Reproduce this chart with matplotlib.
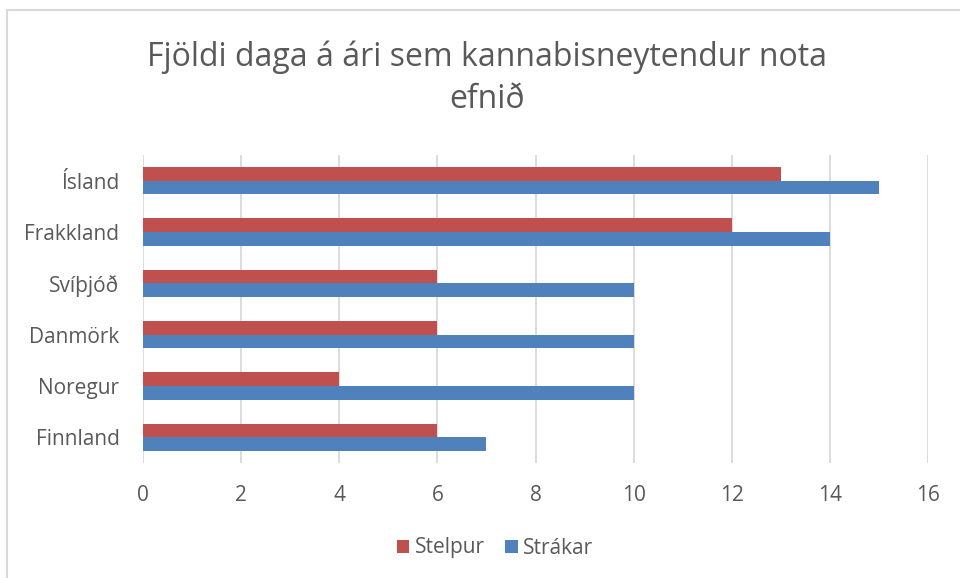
import matplotlib
matplotlib.use("Agg")
import matplotlib.pyplot as plt
from matplotlib.lines import Line2D
import numpy as np

categories = ["Finnland", "Noregur", "Danmörk", "Svíþjóð", "Frakkland", "Ísland"]
stelpur = [6, 4, 6, 6, 12, 13]
strakar = [7, 10, 10, 10, 14, 15]
xticks = [0, 2, 4, 6, 8, 10, 12, 14, 16]

plt.rcParams['font.family'] = ['Open Sans', 'DejaVu Sans']
text_color = "#595959"
red = "#C0504D"
blue = "#4F81BD"

fig = plt.figure(figsize=(9.6, 5.78), dpi=100)
ax = fig.add_axes([143/960, 1 - 463/578, (928-143)/960, (463-155)/578])

y = np.arange(len(categories))
h = 0.265
ax.barh(y + h/2, stelpur, height=h, color=red, label="Stelpur", zorder=3)
ax.barh(y - h/2, strakar, height=h, color=blue, label="Strákar", zorder=3)

ax.set_xlim(0, 16)
ax.set_ylim(-0.5, len(categories) - 0.5)
ax.set_xticks(xticks)
ax.set_xticklabels([str(t) for t in xticks])
ax.set_yticks(y)
ax.set_yticklabels(categories)
ax.tick_params(axis='both', length=0, colors=text_color, labelsize=15)
ax.tick_params(axis='x', pad=16)
ax.tick_params(axis='y', pad=17)
for s in ax.spines.values():
    s.set_visible(False)
ax.grid(axis='x', color='#d9d9d9', linewidth=1.3, zorder=0)

fig.text(487/960, 1 - 57/578, "Fjöldi daga á ári sem kannabisneytendur nota", ha='center', va='center',
         fontsize=23, color=text_color)
fig.text(487/960, 1 - 100/578, "efnið", ha='center', va='center', fontsize=23, color=text_color)

leg = fig.legend(loc='center', bbox_to_anchor=(495/960, 1 - 548/578), ncol=2, frameon=False,
                 fontsize=15, handlelength=0.6, handleheight=0.6, handletextpad=0.25, columnspacing=1.0)
for t in leg.get_texts():
    t.set_color(text_color)

fig.add_artist(Line2D([7/960, 7/960], [0, 1 - 10/578], transform=fig.transFigure, color='#d9d9d9', linewidth=1.5))
fig.add_artist(Line2D([7/960, 1], [1 - 10/578, 1 - 10/578], transform=fig.transFigure, color='#d9d9d9', linewidth=1.5))

fig.savefig("out.png", dpi=100)
